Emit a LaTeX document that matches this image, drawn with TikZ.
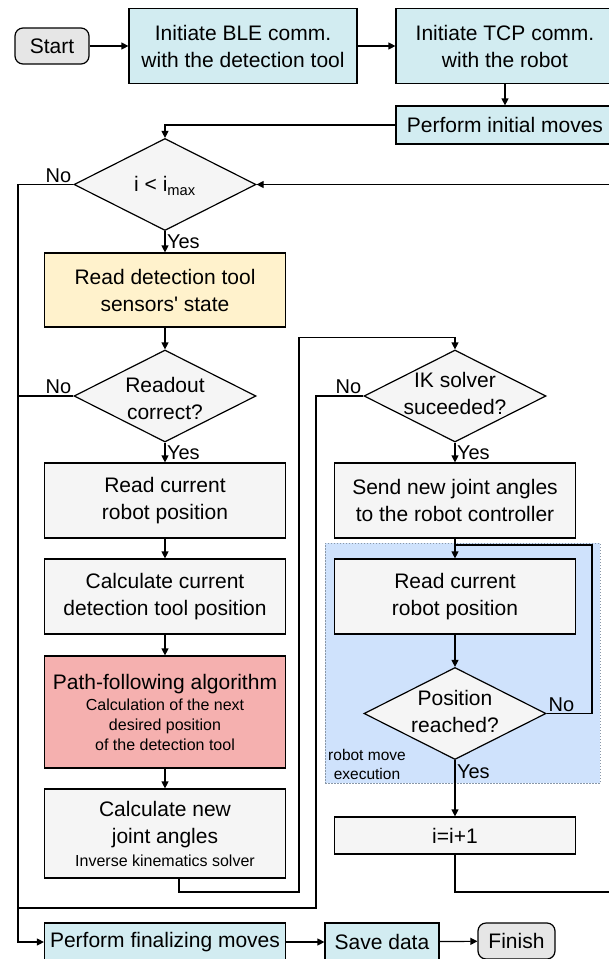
\documentclass[tikz,border=0pt]{standalone}
\usepackage{fontspec}
\setmainfont{Liberation Sans}
\usetikzlibrary{
  arrows.meta,
  positioning,
  shapes.geometric,
  calc,
}
\definecolor{commcyan}{HTML}{D2ECF1}
\definecolor{stepgray}{HTML}{F5F5F5}
\definecolor{termgray}{HTML}{E6E6E6}
\definecolor{sensyellow}{HTML}{FFF2CC}
\definecolor{pathred}{HTML}{F5B0AF}
\definecolor{moveblue}{HTML}{CFE2FC}
\definecolor{movedots}{HTML}{8A98A8}

\newcommand{\smalltext}{\fontsize{16}{20}\selectfont}

\tikzset{
  textonly/.style={align=center, inner sep=1pt, font=\fontsize{21}{27}\selectfont},
  base/.style={textonly, draw, line width=1.2pt, inner sep=2pt},
  procbox/.style={base, rectangle, fill=stepgray, minimum width=241pt},
  commbox/.style={base, rectangle, fill=commcyan},
  termbox/.style={base, rectangle, rounded corners=8pt, fill=termgray, minimum height=36pt},
  decision/.style={base, diamond, fill=stepgray, minimum width=182pt, minimum height=92pt, inner sep=0pt},
  flow/.style={line width=1.2pt, -{Triangle[length=7pt,width=7pt]}},
  link/.style={line width=1.2pt},
  answer/.style={font=\fontsize{20}{24}\selectfont, inner sep=1.5pt},
}

\begin{document}
\begin{tikzpicture}[x=1pt, y=-1pt]
  \useasboundingbox (0,0) rectangle (609,959);
  \clip (0,0) rectangle (609,959);

  % robot move execution area
  \node[fill=moveblue, draw=movedots, line width=0.8pt, dash pattern=on 1.5pt off 1.5pt,
        minimum width=275pt, minimum height=240pt] (moveregion) at (462.5,663) {};
  \node[textonly, font=\fontsize{15.5}{19}\selectfont] (movelabel) at (367,764) {robot move\\execution};

  % setup
  \node[termbox, minimum width=74pt] (start) at (52,46) {Start};
  \node[commbox, minimum width=228pt, minimum height=75pt] (ble) at (243,46) {Initiate BLE comm.\\with the detection tool};
  \node[commbox, minimum width=218pt, minimum height=75pt] (tcp) at (505,46) {Initiate TCP comm.\\with the robot};
  \node[commbox, minimum width=218pt, minimum height=38pt] (init) at (505,125) {Perform initial moves};

  % main loop, left column
  \node[decision] (imax) at (165,184.5) {};
  \node[textonly] (imaxtext) at (165,186) {i < i\textsubscript{max}};
  \node[procbox, fill=sensyellow, minimum height=74pt] (sensors) at (165,290) {Read detection tool\\sensors\textquotesingle{} state};
  \node[decision] (readout) at (165,396) {};
  \node[textonly] (readouttext) at (165,398) {Readout\\correct?};
  \node[procbox, minimum height=75pt] (robotpos) at (165,500.5) {Read current\\robot position};
  \node[procbox, minimum height=75pt] (toolpos) at (165,596.5) {Calculate current\\detection tool position};
  \node[procbox, fill=pathred, minimum height=112pt] (pathalg) at (165,712)
    {Path-following algorithm\\[-6pt] \smalltext Calculation of the next\\[-7pt] \smalltext desired position\\[-7pt] \smalltext of the detection tool};
  \node[procbox, minimum height=89pt] (angles) at (165,833.5)
    {Calculate new\\joint angles\\[-4pt] \smalltext Inverse kinematics solver};

  % main loop, right column
  \node[decision] (ik) at (455,396) {};
  \node[textonly] (iktext) at (455,393.5) {IK solver\\suceeded?};
  \node[procbox, minimum height=75pt] (sendangles) at (455,500.5) {Send new joint angles\\to the robot controller};
  \node[procbox, minimum height=75pt] (robotpos2) at (455,596.5) {Read current\\robot position};
  \node[decision] (reached) at (455,713.5) {};
  \node[textonly] (reachedtext) at (455,711.5) {Position\\reached?};
  \node[procbox, minimum height=37pt] (incr) at (455,835.5) {i=i+1};

  % finishing
  \node[commbox, minimum width=241pt, minimum height=38pt] (finalize) at (165,942) {Perform finalizing moves};
  \node[commbox, minimum width=114pt, minimum height=38pt] (save) at (382,942) {Save data};
  \node[termbox, minimum width=77pt] (finish) at (516.5,941) {Finish};

  \coordinate (rail) at ($(finalize.west)+(-26,0)$);

  % connectors
  \draw[flow] (start) -- (ble);
  \draw[flow] (ble) -- (tcp);
  \draw[flow] (tcp) -- (init);
  \draw[flow] (init.west) -| (imax.north);
  \draw[flow] (imax.south) -- node[answer, right] {Yes} (sensors.north);
  \draw[flow] (imax.west) node[answer, above left] {No} -| (rail) -- (finalize.west);
  \draw[flow] (sensors) -- (readout);
  \draw[link] (readout.west) node[answer, above left] {No} -- (readout.west -| rail);
  \draw[flow] (readout.south) -- node[answer, right] {Yes} (robotpos.north);
  \draw[flow] (robotpos) -- (toolpos);
  \draw[flow] (toolpos) -- (pathalg);
  \draw[flow] (pathalg) -- (angles);
  \draw[flow] ([xshift=14pt]angles.south) |- (299,892) |- ($(ik.north)+(0,-12)$) -- (ik.north);
  \draw[link] (ik.west) node[answer, above left] {No} -| (316,908) -- (rail |- 316,908);
  \draw[flow] (ik.south) -- node[answer, right] {Yes} (sendangles.north);
  \draw[flow] (sendangles) -- (robotpos2);
  \draw[flow] (robotpos2) -- (reached);
  \draw[link] (reached.east) node[answer, above right] {No} -| (592,545) -- (455,545);
  \draw[flow] (reached.south) -- node[answer, right, pos=0.2] {Yes} (incr.north);
  \draw[flow] (incr.south) |- (630,892) |- (imax.east);
  \draw[flow] (finalize) -- (save);
  \draw[flow] (save) -- (finish);
\end{tikzpicture}
\end{document}
